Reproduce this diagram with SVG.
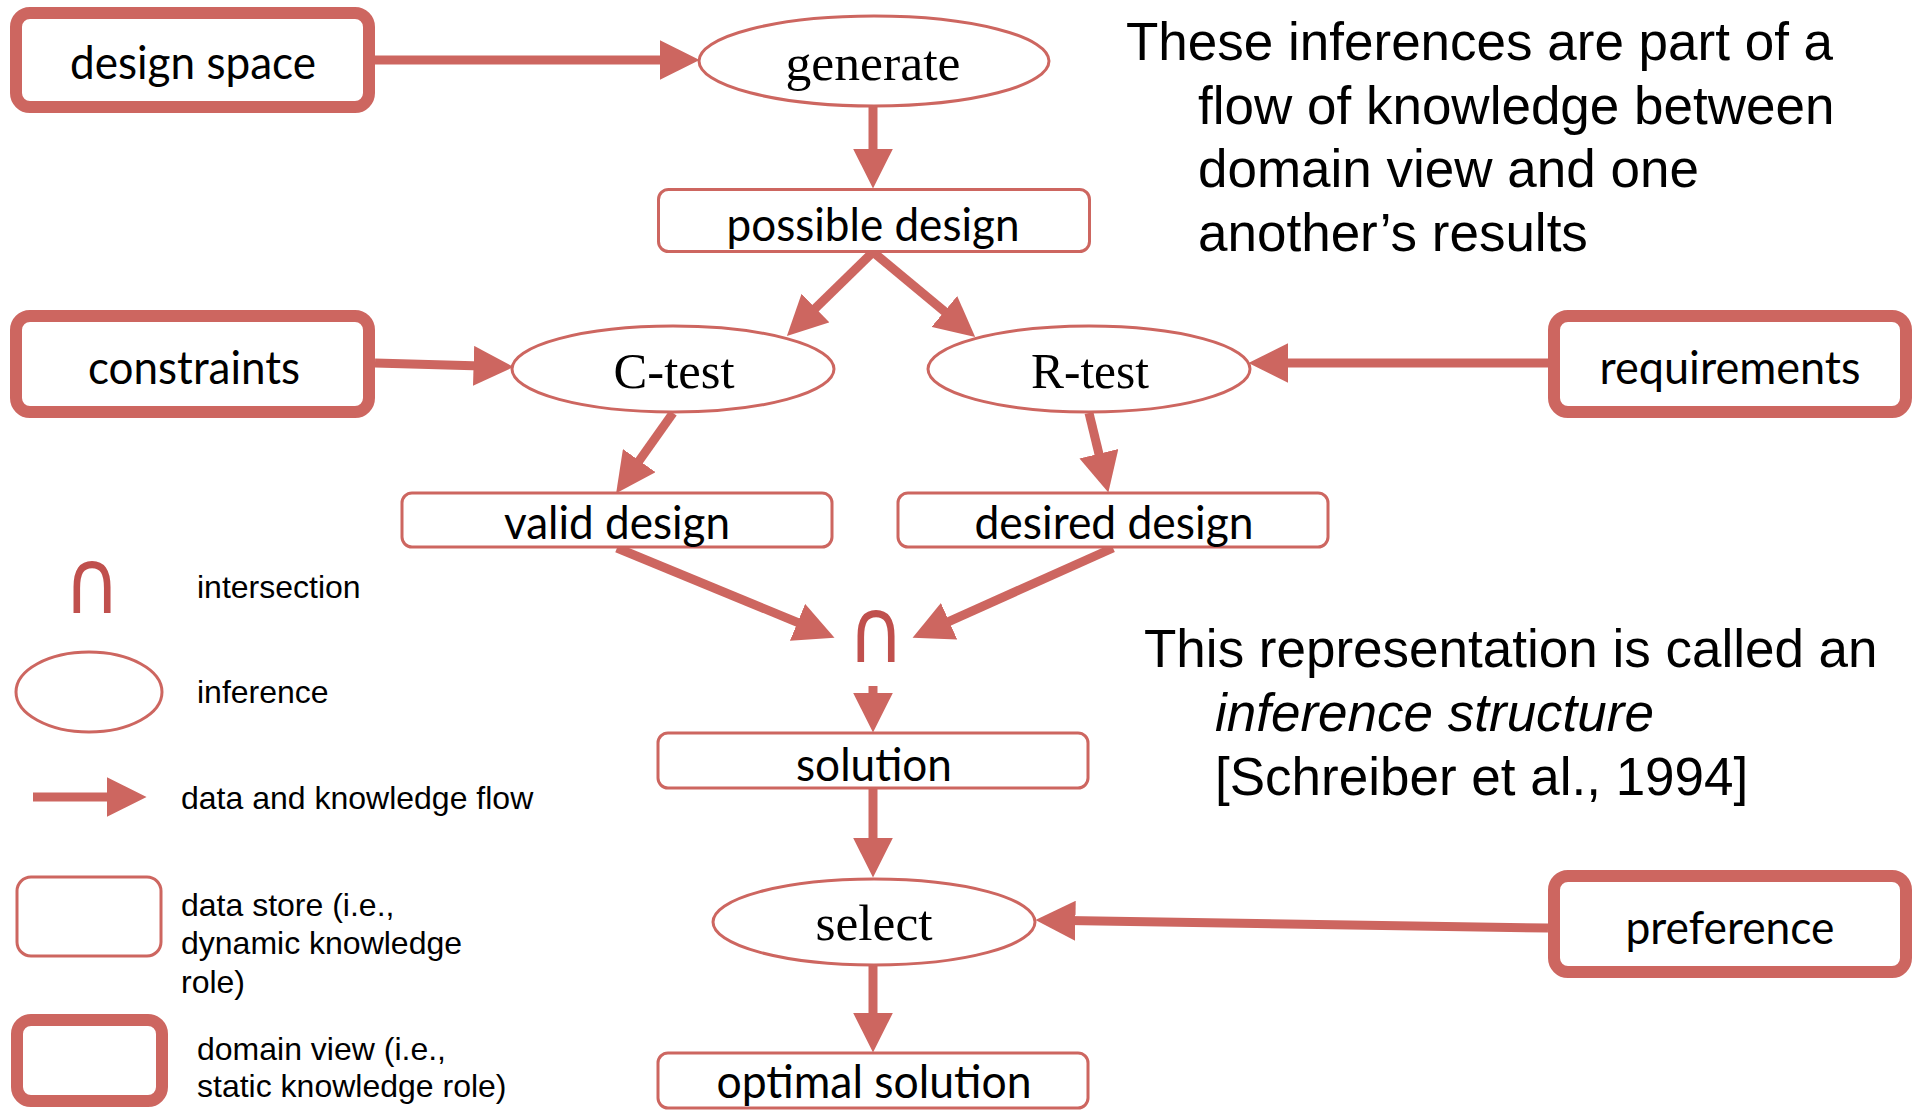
<svg xmlns="http://www.w3.org/2000/svg" width="1917" height="1111" viewBox="0 0 1917 1111">
<style>
.thick{fill:#fff;stroke:#CD6660;stroke-width:12}
.thin{fill:#fff;stroke:#CD6660;stroke-width:3}
.lbl{font-family:Lato,"Liberation Sans",sans-serif;font-size:46px;fill:#000;text-anchor:middle}
.inf{font-family:"Liberation Serif",serif;font-size:50px;fill:#000;text-anchor:middle}
.leg{font-family:"Liberation Sans",Arial,sans-serif;font-size:32px;fill:#000}
.note{font-family:"Liberation Sans",Arial,sans-serif;font-size:53px;fill:#000}
.cap{font-family:"DejaVu Sans",sans-serif;font-size:78px;fill:#C0504D;text-anchor:middle}
.flow{stroke:#CD6660;stroke-width:9;fill:none;marker-end:url(#ah)}
</style>
<defs>
<marker id="ah" markerUnits="userSpaceOnUse" markerWidth="40" markerHeight="40" viewBox="0 0 38 38" refX="8" refY="19" orient="auto">
<path d="M0,0 L38,19 L0,38 z" fill="#CD6660"/>
</marker>
</defs>
<rect width="1917" height="1111" fill="#fff"/>

<g id="connectors">
<line class="flow" x1="375" y1="60" x2="668" y2="60"/>
<line class="flow" x1="873" y1="106" x2="873" y2="157"/>
<line class="flow" x1="873" y1="252" x2="809.5" y2="314"/>
<line class="flow" x1="873" y1="252" x2="950.9" y2="316.8"/>
<line class="flow" x1="375" y1="363" x2="482" y2="366.1"/>
<line class="flow" x1="1548" y1="363" x2="1280" y2="363"/>
<line class="flow" x1="673" y1="413" x2="634.4" y2="467.5"/>
<line class="flow" x1="1089" y1="413" x2="1100.9" y2="461.9"/>
<line class="flow" x1="617" y1="548" x2="805.3" y2="625.6"/>
<line class="flow" x1="1113" y1="548" x2="941.4" y2="624.8"/>
<line class="flow" x1="873" y1="686" x2="873" y2="701"/>
<line class="flow" x1="873" y1="789" x2="873" y2="846"/>
<line class="flow" x1="1548" y1="928" x2="1067" y2="920.5"/>
<line class="flow" x1="873" y1="965" x2="873" y2="1021"/>
</g>

<g id="design-space"><rect class="thick" x="16" y="13" width="353" height="94" rx="14"/><text class="lbl" x="193" y="79" textLength="246" lengthAdjust="spacingAndGlyphs">design space</text></g>
<g id="generate"><ellipse class="thin" cx="874" cy="61" rx="175" ry="45"/><text class="inf" x="873" y="80" textLength="175" lengthAdjust="spacingAndGlyphs">generate</text></g>
<g id="possible-design"><rect class="thin" x="658.5" y="189.5" width="431" height="62" rx="10"/><text class="lbl" x="873" y="241" textLength="293" lengthAdjust="spacingAndGlyphs">possible design</text></g>
<g id="constraints"><rect class="thick" x="16" y="316" width="353" height="96" rx="14"/><text class="lbl" x="194" y="384" textLength="212" lengthAdjust="spacingAndGlyphs">constraints</text></g>
<g id="c-test"><ellipse class="thin" cx="673" cy="369" rx="161" ry="43"/><text class="inf" x="674" y="388" textLength="121" lengthAdjust="spacingAndGlyphs">C-test</text></g>
<g id="r-test"><ellipse class="thin" cx="1089" cy="369" rx="161" ry="43"/><text class="inf" x="1090" y="388" textLength="118" lengthAdjust="spacingAndGlyphs">R-test</text></g>
<g id="requirements"><rect class="thick" x="1554" y="316" width="352" height="96" rx="14"/><text class="lbl" x="1730" y="384" textLength="261" lengthAdjust="spacingAndGlyphs">requirements</text></g>
<g id="valid-design"><rect class="thin" x="402" y="493" width="430" height="54" rx="10"/><text class="lbl" x="617" y="539" textLength="226" lengthAdjust="spacingAndGlyphs">valid design</text></g>
<g id="desired-design"><rect class="thin" x="898" y="493" width="430" height="54" rx="10"/><text class="lbl" x="1114" y="539" textLength="279" lengthAdjust="spacingAndGlyphs">desired design</text></g>
<g id="intersection"><text class="cap" transform="translate(876,662) scale(1,1.15)">∩</text></g>
<g id="solution"><rect class="thin" x="658" y="733" width="430" height="55" rx="10"/><text class="lbl" x="874" y="781" textLength="156" lengthAdjust="spacingAndGlyphs">solution</text></g>
<g id="select"><ellipse class="thin" cx="874" cy="922" rx="161" ry="43"/><text class="inf" x="874" y="940" textLength="117" lengthAdjust="spacingAndGlyphs">select</text></g>
<g id="preference"><rect class="thick" x="1554" y="876" width="352" height="96" rx="14"/><text class="lbl" x="1730" y="944" textLength="209" lengthAdjust="spacingAndGlyphs">preference</text></g>
<g id="optimal-solution"><rect class="thin" x="658" y="1053" width="430" height="55" rx="10"/><text class="lbl" x="874" y="1098" textLength="315" lengthAdjust="spacingAndGlyphs">optimal solution</text></g>

<g id="legend">
<text class="cap" transform="translate(92,613) scale(1,1.15)">∩</text>
<text class="leg" x="197" y="598">intersection</text>
<ellipse class="thin" cx="89" cy="692" rx="73" ry="40"/>
<text class="leg" x="197" y="703">inference</text>
<line class="flow" x1="33" y1="797" x2="115" y2="797"/>
<text class="leg" x="181" y="809">data and knowledge flow</text>
<rect class="thin" x="17" y="877" width="144" height="79" rx="14"/>
<text class="leg" x="181" y="916">data store (i.e.,</text>
<text class="leg" x="181" y="954">dynamic knowledge</text>
<text class="leg" x="181" y="993">role)</text>
<rect class="thick" x="17" y="1020" width="145" height="81" rx="14"/>
<text class="leg" x="197" y="1060">domain view (i.e.,</text>
<text class="leg" x="197" y="1097">static knowledge role)</text>
</g>

<g id="notes">
<text class="note" x="1126" y="60">These inferences are part of a</text>
<text class="note" x="1198" y="124">flow of knowledge between</text>
<text class="note" x="1198" y="187">domain view and one</text>
<text class="note" x="1198" y="251">another’s results</text>
<text class="note" x="1144" y="667">This representation is called an</text>
<text class="note" x="1215" y="731" font-style="italic">inference structure</text>
<text class="note" x="1215" y="795">[Schreiber et al., 1994]</text>
</g>
</svg>
